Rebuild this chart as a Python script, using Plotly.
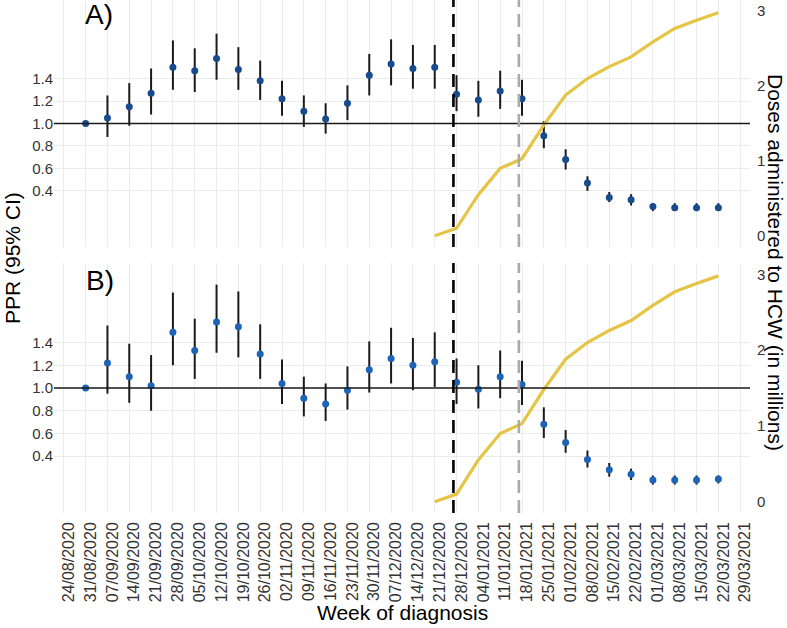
import pandas as pd
import plotly.graph_objects as go

# ---- data ----
week_labels = ["24/08/2020", "31/08/2020", "07/09/2020", "14/09/2020", "21/09/2020", "28/09/2020",
               "05/10/2020", "12/10/2020", "19/10/2020", "26/10/2020", "02/11/2020", "09/11/2020",
               "16/11/2020", "23/11/2020", "30/11/2020", "07/12/2020", "14/12/2020", "21/12/2020",
               "28/12/2020", "04/01/2021", "11/01/2021", "18/01/2021", "25/01/2021", "01/02/2021",
               "08/02/2021", "15/02/2021", "22/02/2021", "01/03/2021", "08/03/2021", "15/03/2021",
               "22/03/2021", "29/03/2021"]
point_weeks = week_labels[1:31]
dose_weeks = week_labels[17:31]

ppr_a = [1.00, 1.05, 1.15, 1.27, 1.50, 1.47, 1.58, 1.48, 1.38, 1.22, 1.11, 1.04, 1.18, 1.43, 1.53,
         1.49, 1.50, 1.26, 1.21, 1.29, 1.22, 0.89, 0.68, 0.47, 0.34, 0.32, 0.26, 0.25, 0.25, 0.25]
lo_a = [1.00, 0.88, 0.98, 1.08, 1.30, 1.28, 1.39, 1.30, 1.21, 1.07, 0.97, 0.91, 1.03, 1.25, 1.34,
        1.31, 1.31, 1.11, 1.06, 1.13, 1.07, 0.78, 0.59, 0.40, 0.30, 0.27, 0.22, 0.22, 0.22, 0.22]
hi_a = [1.00, 1.25, 1.36, 1.49, 1.74, 1.67, 1.80, 1.68, 1.56, 1.38, 1.25, 1.18, 1.34, 1.62, 1.75,
        1.70, 1.70, 1.43, 1.38, 1.47, 1.39, 1.02, 0.77, 0.53, 0.39, 0.37, 0.29, 0.29, 0.29, 0.29]

ppr_b = [1.00, 1.22, 1.10, 1.02, 1.49, 1.33, 1.58, 1.54, 1.30, 1.04, 0.91, 0.86, 0.98, 1.16, 1.26,
         1.20, 1.23, 1.05, 0.99, 1.10, 1.03, 0.68, 0.52, 0.37, 0.28, 0.24, 0.19, 0.19, 0.19, 0.20]
lo_b = [1.00, 0.95, 0.87, 0.80, 1.20, 1.08, 1.31, 1.27, 1.08, 0.86, 0.75, 0.71, 0.81, 0.96, 1.04,
        0.98, 1.01, 0.86, 0.82, 0.91, 0.85, 0.56, 0.43, 0.30, 0.22, 0.19, 0.15, 0.15, 0.15, 0.16]
hi_b = [1.00, 1.55, 1.39, 1.29, 1.84, 1.61, 1.91, 1.85, 1.56, 1.25, 1.10, 1.04, 1.19, 1.41, 1.53,
        1.44, 1.49, 1.26, 1.20, 1.33, 1.24, 0.83, 0.63, 0.45, 0.34, 0.29, 0.23, 0.23, 0.23, 0.23]

doses_millions = [0.00, 0.10, 0.55, 0.90, 1.03, 1.48, 1.88, 2.10, 2.26, 2.39, 2.59, 2.77, 2.88, 2.98]

vline_first_dose = "27/12/2020"
vline_second_dose = "17/01/2021"
ppr_ticks = [0.4, 0.6, 0.8, 1.0, 1.2, 1.4]
dose_ticks = [0, 1, 2, 3]
panel_labels = ["A)", "B)"]

# ---- helpers ----
def to_dt(lst):
    return pd.to_datetime(lst, format="%d/%m/%Y")

tick_dt = to_dt(week_labels)
pt_dt = to_dt(point_weeks)
dose_dt = to_dt(dose_weeks)
v1 = pd.to_datetime(vline_first_dose, format="%d/%m/%Y")
v2 = pd.to_datetime(vline_second_dose, format="%d/%m/%Y")

span = pt_dt[-1] - pt_dt[0]
xr = [pt_dt[0] - span * 0.05, pt_dt[-1] + span * 0.05]

FONT = "Liberation Sans, Arial, sans-serif"
YELLOW = "#E6C445"
GRID = "#EBEBEB"
TXT = "#333333"

fig = go.Figure()

panels = [
    (ppr_a, lo_a, hi_a, "x", "y", "y2", "#174B8E"),
    (ppr_b, lo_b, hi_b, "x2", "y3", "y4", "#1D63B8"),
]
for ppr, lo, hi, xa, ya, ya2, col in panels:
    fig.add_trace(go.Scatter(
        x=dose_dt, y=doses_millions, mode="lines", xaxis=xa, yaxis=ya2,
        line=dict(color=YELLOW, width=3.2), showlegend=False, hoverinfo="skip"))
    fig.add_trace(go.Scatter(
        x=pt_dt, y=ppr, mode="markers", xaxis=xa, yaxis=ya,
        marker=dict(color=col, size=7),
        error_y=dict(type="data", symmetric=False,
                     array=[h - p for h, p in zip(hi, ppr)],
                     arrayminus=[p - l for p, l in zip(ppr, lo)],
                     color="#1a1a1a", thickness=2, width=0),
        showlegend=False))

# reference lines
for xa, ya in [("x", "y"), ("x2", "y3")]:
    fig.add_shape(type="line", xref=f"{xa} domain", yref=ya, x0=0, x1=1, y0=1, y1=1,
                  line=dict(color="#1a1a1a", width=1.5), layer="above")
    fig.add_shape(type="line", xref=xa, yref=f"{ya} domain", x0=v1, x1=v1, y0=0, y1=1,
                  line=dict(color="black", width=2.6, dash="13px,7px"), layer="above")
    fig.add_shape(type="line", xref=xa, yref=f"{ya} domain", x0=v2, x1=v2, y0=0, y1=1,
                  line=dict(color="#AAAAAA", width=2.6, dash="13px,7px"), layer="above")

H_PLOT = 513.0
domA = [1 - 247 / H_PLOT, 1]
domB = [0, (H_PLOT - 263) / H_PLOT]

xcommon = dict(type="date", range=xr, tickvals=tick_dt, ticktext=week_labels, automargin=False,
               showgrid=True, gridcolor=GRID, gridwidth=1, zeroline=False, showline=False,
               ticks="", tickangle=-90, tickfont=dict(family=FONT, size=16, color=TXT))
ycommon = dict(range=[-0.1, 2.1], tickvals=ppr_ticks, tickformat=".1f", showgrid=True,
               gridcolor=GRID, zeroline=False, showline=False, ticks="", automargin=False,
               tickfont=dict(family=FONT, size=15, color=TXT))
y2common = dict(range=[-0.15, 3.15], tickvals=dose_ticks, showgrid=False, zeroline=False,
                showline=False, ticks="", side="right", automargin=False,
                tickfont=dict(family=FONT, size=15, color=TXT))

fig.update_layout(
    width=787, height=628,
    margin=dict(l=54, r=37, t=0, b=115, autoexpand=False),
    paper_bgcolor="white", plot_bgcolor="white",
    font=dict(family=FONT, color="black"),
    xaxis=dict(**xcommon, anchor="y", showticklabels=False),
    xaxis2=dict(**xcommon, anchor="y3", matches="x", ticklabelshift=5, ticklabelstandoff=5),
    yaxis=dict(**ycommon, domain=domA, anchor="x"),
    yaxis2=dict(**y2common, overlaying="y", anchor="x", ticklabelstandoff=6),
    yaxis3=dict(**ycommon, domain=domB, anchor="x2"),
    yaxis4=dict(**y2common, overlaying="y3", anchor="x2", ticklabelstandoff=6),
)

def px_x(p):
    return (p - 54) / 696.0

def px_y(p):
    return 1 - p / H_PLOT

annots = [
    dict(text=panel_labels[0], x=px_x(99), y=px_y(14), font=dict(size=28)),
    dict(text=panel_labels[1], x=px_x(100), y=px_y(280), font=dict(size=28)),
    dict(text="PPR (95% CI)", x=px_x(12), y=px_y(258), textangle=-90, font=dict(size=21)),
    dict(text="Doses administered to HCW (in millions)", x=px_x(776), y=px_y(262),
         textangle=90, font=dict(size=21)),
    dict(text="Week of diagnosis", x=0.5, y=px_y(612), font=dict(size=21)),
]
for a in annots:
    fig.add_annotation(xref="paper", yref="paper", showarrow=False, xanchor="center",
                       yanchor="middle", font_family=FONT, font_color="black", **a)

fig.write_html("out.html", config={"displayModeBar": False},
               post_script="document.body.style.margin='0';document.body.style.overflow='hidden';")
